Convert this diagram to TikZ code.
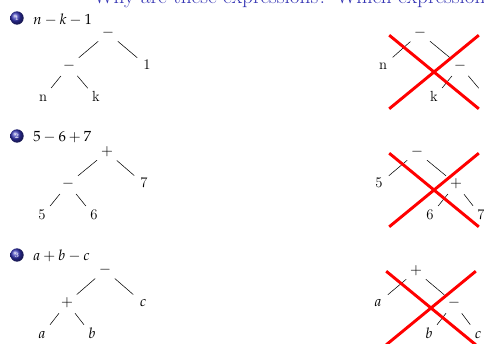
\documentclass[tikz,border=0pt]{standalone}
\usepackage{mathpazo}
\usepackage{xcolor}
\usepackage{tikz}
\usetikzlibrary{shapes.misc}
\definecolor{strucblue}{RGB}{51,51,179}

\begin{document}
\begin{tikzpicture}[x=.75pt, y=-.75pt, font=\fontsize{11pt}{13pt}\selectfont,
  op/.style={circle, inner sep=0pt, minimum size=19pt, text height=1.5ex, text depth=.25ex},
  itemball/.style={circle, shading=ball, ball color=strucblue, text=white, font=\fontsize{5pt}{5pt}\selectfont, inner sep=0pt, minimum size=10pt},
  expr/.style={anchor=base west, inner sep=0pt},
  nope/.style={draw=red, cross out, line width=2.2pt, inner sep=0pt, minimum width=65pt, minimum height=53pt}]
\useasboundingbox (0,0) rectangle (484,343);
\clip (0,0) rectangle (484,343);
\node[expr, text=strucblue, font=\fontsize{16pt}{19pt}\selectfont] (T) at (93,3.5) {Why are these expressions? Which expression};
% first expression
\node[itemball] (I1) at (17,18) {1};
\node[expr] (E1) at (33,24) {$n-k-1$};
\node[op] (A1) at (108,33) {$-$};
\node[op] (B1) at (69,66) {$-$};
\node[op] (C1) at (147,66) {1};
\node[op] (D1) at (43,98) {n};
\node[op] (F1) at (96,98) {k};
\draw (A1) -- (B1) -- (D1);
\draw (A1) -- (C1);
\draw (B1) -- (F1);
\node[op] (A2) at (420,33) {$-$};
\node[op] (B2) at (383,66) {n};
\node[op] (C2) at (460,66) {$-$};
\node[op] (D2) at (434,98) {k};
\node[op] (F2) at (487,98) {1};
\draw (A2) -- (B2);
\draw (A2) -- (C2) -- (D2);
\draw (C2) -- (F2);
\node[nope] (X1) at (434,72) {};
% second expression
\node[itemball] (I2) at (17,136) {2};
\node[expr] (E2) at (33,141) {$5-6+7$};
\node[op] (A3) at (107,152) {$+$};
\node[op] (B3) at (68,184) {$-$};
\node[op] (C3) at (144,184) {7};
\node[op] (D3) at (42,216) {5};
\node[op] (F3) at (94,216) {6};
\draw (A3) -- (B3) -- (D3);
\draw (A3) -- (C3);
\draw (B3) -- (F3);
\node[op] (A4) at (417,152) {$-$};
\node[op] (B4) at (379,184) {5};
\node[op] (C4) at (456,184) {$+$};
\node[op] (D4) at (430,216) {6};
\node[op] (F4) at (481,216) {7};
\draw (A4) -- (B4);
\draw (A4) -- (C4) -- (D4);
\draw (C4) -- (F4);
\node[nope] (X2) at (434,190) {};
% third expression
\node[itemball] (I3) at (17,255) {3};
\node[expr] (E3) at (33,260) {$a+b-c$};
\node[op] (A5) at (105,270) {$-$};
\node[op] (B5) at (67,303) {$+$};
\node[op] (C5) at (143,303) {$c$};
\node[op] (D5) at (42,335) {$a$};
\node[op] (F5) at (92,335) {$b$};
\draw (A5) -- (B5) -- (D5);
\draw (A5) -- (C5);
\draw (B5) -- (F5);
\node[op] (A6) at (416,271) {$+$};
\node[op] (B6) at (378,303) {$a$};
\node[op] (C6) at (454,303) {$-$};
\node[op] (D6) at (429,335) {$b$};
\node[op] (F6) at (478,335) {$c$};
\draw (A6) -- (B6);
\draw (A6) -- (C6) -- (D6);
\draw (C6) -- (F6);
\node[nope] (X3) at (431,308) {};
\end{tikzpicture}
\end{document}
